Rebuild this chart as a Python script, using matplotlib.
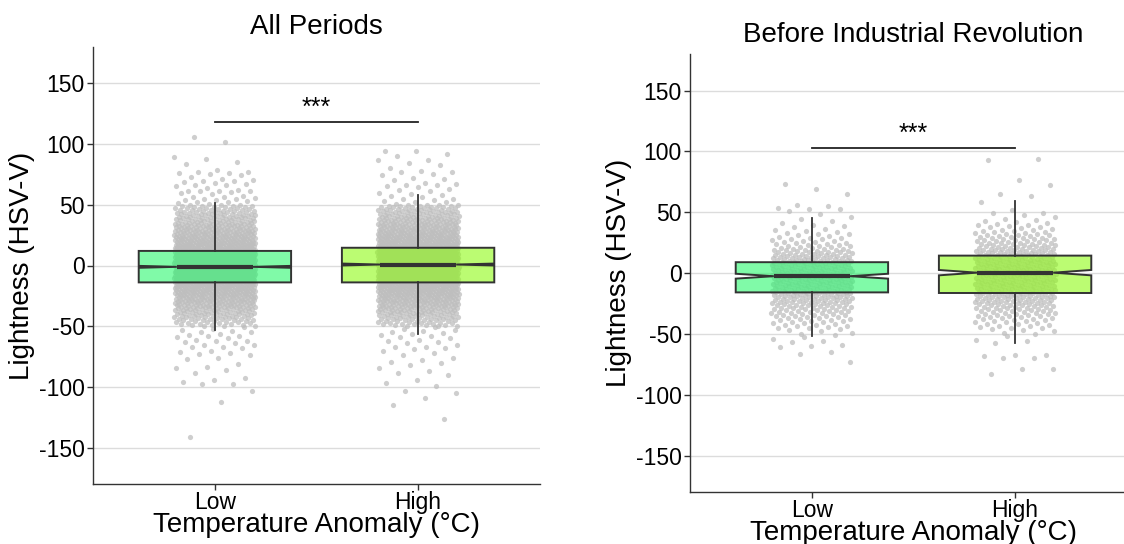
import matplotlib.pyplot as plt
import numpy as np
from matplotlib.colors import to_rgba

plt.rcParams['font.family'] = ['Liberation Sans', 'DejaVu Sans']
plt.rcParams['axes.unicode_minus'] = False

groups = ['Low', 'High']
box_colors = ['#2BF76E', '#8EFA14']

# 5-unit bins of the dense cloud, from -50 to 50
bin_edges = np.arange(-50, 51, 5)

# --- All Periods: counts per bin + sparse tails
all_low_core = [20, 28, 36, 46, 56, 66, 76, 86, 94, 98, 98, 94, 86, 76, 64, 54, 44, 36, 30, 24]
all_high_core = [22, 30, 38, 48, 58, 68, 78, 86, 92, 96, 96, 94, 88, 80, 70, 60, 50, 42, 34, 28]
all_low_tail = [51, 51.5, 52, 52.5, 53, 53.5, 54, 54.5, 55, 55.8, 56.6, 56.6, 57.5, 58.5, 59.3,
                60.7, 61.2, 61.2, 61.5, 61.5, 62, 63.4, 65.3, 66.1, 66.1, 66.9, 67.5, 68.8,
                69.6, 69.6, 70.1, 71.5, 72.8, 74.7, 75.6, 76.1, 76.1, 76.6, 77.2, 78.3, 83.7,
                84.8, 87.6, 89.2, 101.2, 106.1,
                -51, -52, -53, -54, -55, -55, -56, -57, -57.7, -58, -59, -60, -61, -61.8, -62,
                -63, -64, -65, -65, -66.7, -67, -68, -70, -71, -72, -72.5, -73.9, -75.8, -77,
                -80.7, -83.5, -84, -86.2, -88.4, -92.2, -93.8, -96, -97.1, -97.5, -103, -112,
                -140.8]
all_high_tail = [51, 52, 52.5, 53, 54, 54.5, 55, 56, 57, 58, 59, 60, 61, 62, 63, 64.4, 65,
                 66.5, 66.5, 67, 68, 70, 71.1, 72, 74.7, 75.6, 77, 77, 78, 80.4, 82.4, 84.3,
                 86.4, 86.4, 89.7, 91.4, 94.1, 94.1,
                 -51, -52, -53, -54, -55, -55.5, -56, -57, -58, -59, -60, -61, -62, -63, -64,
                 -65, -66.7, -67, -68, -69, -70, -72, -74, -76, -78, -79, -80, -82, -84, -86.5,
                 -88.4, -90, -94, -96.7, -98.8, -103.3, -104.8, -108.9, -115, -126.6]

# box stats: Low, High
all_q1 = [-13.9, -13.9]
all_med = [-1.1, 0.8]
all_q3 = [12.0, 14.6]
all_whislo = [-52.7, -56.0]
all_whishi = [51.6, 58.0]
all_notch = [0.8, 0.8]
all_sig_y = 118.3

# --- Before Industrial Revolution
bir_low_core = [6, 10, 13, 17, 21, 25, 29, 32, 35, 36, 35, 32, 27, 21, 14, 10, 7, 5, 3, 2]
bir_high_core = [6, 9, 13, 16, 21, 25, 29, 32, 34, 35, 35, 34, 31, 27, 21, 17, 13, 9, 6, 3]
bir_low_tail = [51.2, 52.6, 53.1, 53.9, 55.3, 55.9, 65.4, 69, 73.1,
                -51, -52.6, -54, -55.9, -56.7, -59.4, -60.2, -60.8, -64.9, -66.8, -73.1]
bir_high_tail = [49.6, 51.8, 58.6, 63.5, 64.9, 72.5, 76.4, 92.8, 94.1,
                 -52, -55, -56, -57.5, -67.1, -67.6, -68.2, -70, -70, -78.5, -79.1, -83.2]

bir_q1 = [-15.8, -16.3]
bir_med = [-2.5, 0.4]
bir_q3 = [9.0, 14.4]
bir_whislo = [-52.0, -57.5]
bir_whishi = [45.2, 58.9]
bir_notch = [2.0, 2.2]
bir_sig_y = 103.0


def cloud(core_counts, tail):
    ys = []
    for lo, n in zip(bin_edges[:-1], core_counts):
        ys += list(lo + (np.arange(n) + 0.5) * 5.0 / n)
    ys += list(tail)
    return np.array(ys)


def jitter_x(pos, n, seed_off):
    # deterministic jitter, golden-ratio sequence, +-0.2 like geom_jitter(width=0.2)
    u = (np.arange(n) * 0.6180339887 + seed_off) % 1.0
    return pos + (u * 2 - 1) * 0.2


def panel(ax, title, clouds, q1, med, q3, wlo, whi, notch, sig_y):
    for i, ys in enumerate(clouds):
        xs = jitter_x(i + 1, len(ys), 0.37 * (i + 1))
        ax.scatter(xs, ys, s=14, color='#BEBEBE', alpha=0.75, linewidths=0, zorder=1)

    stats = []
    for i in range(2):
        stats.append(dict(med=med[i], q1=q1[i], q3=q3[i], whislo=wlo[i], whishi=whi[i],
                          cilo=med[i] - notch[i], cihi=med[i] + notch[i], fliers=[]))
    bp = ax.bxp(stats, positions=[1, 2], widths=0.75, shownotches=True, showcaps=False,
                showfliers=False, patch_artist=True,
                boxprops=dict(edgecolor='#333333', linewidth=1.4),
                whiskerprops=dict(color='#333333', linewidth=1.3),
                medianprops=dict(color='#333333', linewidth=3.0),
                zorder=2)
    for patch, c in zip(bp['boxes'], box_colors):
        patch.set_facecolor(to_rgba(c, 0.6))

    # significance bracket
    ax.plot([1, 2], [sig_y, sig_y], color='#222222', lw=1.3, zorder=3)
    ax.text(1.5, sig_y + 1.5, '***', ha='center', va='bottom', fontsize=18)

    ax.set_xlim(0.4, 2.6)
    ax.set_ylim(-180, 180)
    ax.set_xticks([1, 2], groups)
    ax.set_yticks([-150, -100, -50, 0, 50, 100, 150])
    ax.yaxis.grid(True, color='#DCDCDC', lw=1.0)
    ax.set_axisbelow(True)
    for s in ['top', 'right']:
        ax.spines[s].set_visible(False)
    for s in ['left', 'bottom']:
        ax.spines[s].set_color('#333333')
        ax.spines[s].set_linewidth(1.0)
    ax.tick_params(length=4, width=1, color='#333333', labelsize=16.5, pad=2)
    ax.tick_params(axis='x', pad=0.5)
    ax.set_xlabel('Temperature Anomaly (°C)', fontsize=20, labelpad=-1)
    ax.set_ylabel('Lightness (HSV-V)', fontsize=20, labelpad=3)
    ax.set_title(title, fontsize=20, pad=9)


fig = plt.figure(figsize=(11.24, 5.44), dpi=100)
W, H = 1124.0, 544.0
ax1 = fig.add_axes([93 / W, 1 - 484.3 / H, 447 / W, 437.6 / H])
ax2 = fig.add_axes([690 / W, 1 - 492.3 / H, 447 / W, 438.3 / H])

panel(ax1, 'All Periods',
      [cloud(all_low_core, all_low_tail), cloud(all_high_core, all_high_tail)],
      all_q1, all_med, all_q3, all_whislo, all_whishi, all_notch, all_sig_y)
panel(ax2, 'Before Industrial Revolution',
      [cloud(bir_low_core, bir_low_tail), cloud(bir_high_core, bir_high_tail)],
      bir_q1, bir_med, bir_q3, bir_whislo, bir_whishi, bir_notch, bir_sig_y)

fig.savefig('out.png', dpi=100)
